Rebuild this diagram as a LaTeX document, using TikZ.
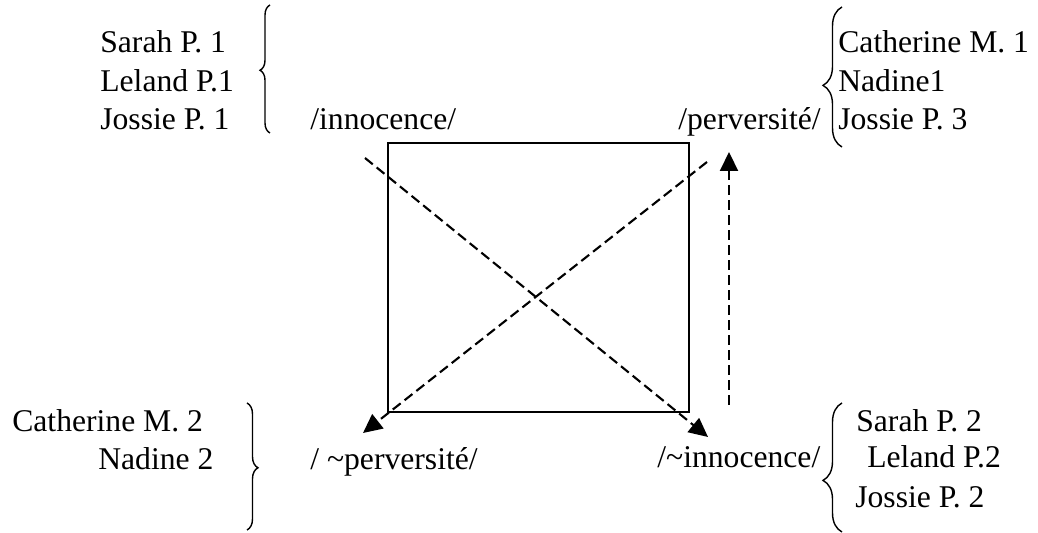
\documentclass[tikz,border=0pt]{standalone}
\usepackage{fontspec}
\setmainfont{Liberation Serif}
\usepackage{tikz}
\usetikzlibrary{arrows.meta,decorations.pathreplacing}

\begin{document}
\begin{tikzpicture}[
    lbl/.style={anchor=base west,inner sep=0pt,font=\fontsize{18}{21.6}\selectfont},
    dashline/.style={line width=1.2pt,dash pattern=on 0.2cm off 0.1cm,
      -{Triangle[length=0.38cm,width=0.36cm]}},
    curly/.style={decorate,line width=0.8pt}]
  \useasboundingbox (0,0) rectangle (20.76,10.66);
  % square
  \node[draw,line width=1.2pt,minimum width=6.02cm,minimum height=5.38cm,inner sep=0pt] (sq) at (10.77,5.11) {};
  % corner labels
  \node[lbl] (inno) at (6.20,8.06) {/innocence/};
  \node[lbl] (perv) at (13.56,8.06) {/perversité/};
  \node[lbl] (nperv) at (6.20,1.26) {/ \textasciitilde perversité/};
  \node[lbl] (ninno) at (13.14,1.30) {/\textasciitilde innocence/};
  % characters
  \node[lbl] (sarahA) at (2.00,9.60) {Sarah P. 1};
  \node[lbl] (lelandA) at (2.00,8.82) {Leland P.1};
  \node[lbl] (jossieA) at (2.00,8.06) {Jossie P. 1};
  \node[lbl] (cathA) at (16.76,9.60) {Catherine M. 1};
  \node[lbl] (nadineA) at (16.76,8.82) {Nadine1};
  \node[lbl] (jossieC) at (16.76,8.06) {Jossie P. 3};
  \node[lbl] (cathB) at (0.24,2.02) {Catherine M. 2};
  \node[lbl] (nadineB) at (1.96,1.26) {Nadine 2};
  \node[lbl] (sarahB) at (17.12,2.02) {Sarah P. 2};
  \node[lbl] (lelandB) at (17.34,1.30) {Leland P.2};
  \node[lbl] (jossieB) at (17.10,0.50) {Jossie P. 2};
  % braces
  \draw[curly,decoration={brace,amplitude=0.2cm,aspect=0.49}] (5.40,8.00) -- (5.40,10.56);
  \draw[curly,decoration={brace,amplitude=0.38cm,aspect=0.44}] (16.84,7.72) -- (16.84,10.52);
  \draw[curly,decoration={brace,amplitude=0.22cm,aspect=0.51}] (4.94,2.60) -- (4.94,0.06);
  \draw[curly,decoration={brace,amplitude=0.38cm,aspect=0.40}] (16.84,0.02) -- (16.84,2.60);
  % arrows
  \coordinate (a1) at (7.30,7.50);
  \coordinate (b1) at (14.16,1.92);
  \coordinate (a2) at (14.14,7.42);
  \coordinate (b2) at (7.26,2.00);
  \coordinate (a3) at (14.58,2.56);
  \coordinate (b3) at (14.58,7.62);
  \draw[dashline] (a1) -- (b1);
  \draw[dashline] (a2) -- (b2);
  \draw[dashline] (a3) -- (b3);
\end{tikzpicture}
\end{document}
